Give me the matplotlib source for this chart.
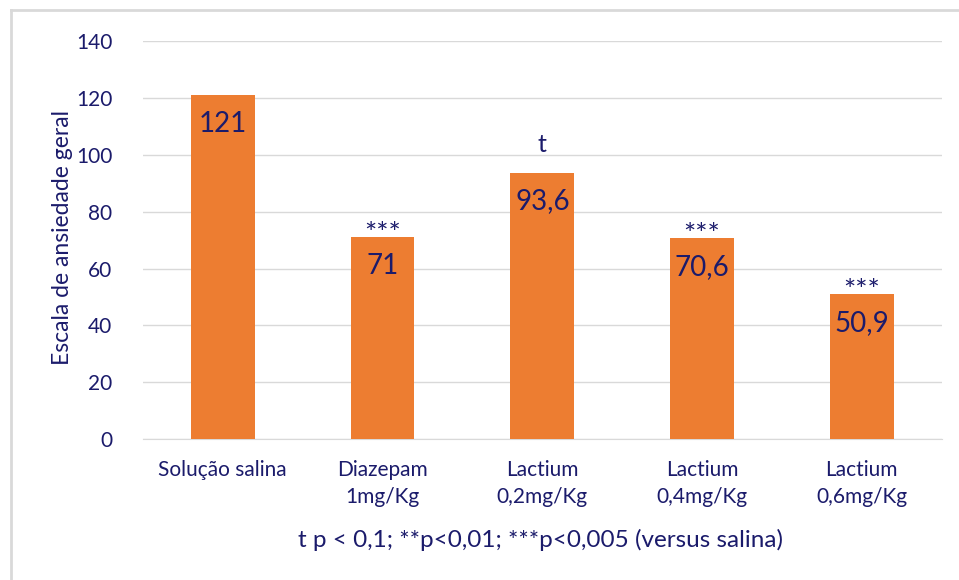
import matplotlib.pyplot as plt
from matplotlib.lines import Line2D

categories = ["Solução salina", "Diazepam\n1mg/Kg", "Lactium\n0,2mg/Kg", "Lactium\n0,4mg/Kg", "Lactium\n0,6mg/Kg"]
values = [121, 71, 93.6, 70.6, 50.9]
value_labels = ["121", "71", "93,6", "70,6", "50,9"]
marks = ["", "***", "t", "***", "***"]
yticks = [0, 20, 40, 60, 80, 100, 120, 140]

navy = "#1b1b6b"
orange = "#ED7D31"
plt.rcParams['font.family'] = ['Lato', 'DejaVu Sans']

fig = plt.figure(figsize=(9.59, 5.8), dpi=100)
ax = fig.add_axes([0.149, 0.243, 0.833, 0.686])

x = range(len(categories))
ax.bar(x, values, width=0.4, color=orange, zorder=3)

for i, v in enumerate(values):
    ax.text(i, v - 10, value_labels[i], ha='center', va='center', fontsize=20, color=navy, zorder=4)
    if marks[i] == "t":
        ax.text(i, v + 6, marks[i], ha='center', va='bottom', fontsize=18, color=navy)
    elif marks[i]:
        ax.text(i, v - 3.8, marks[i], ha='center', va='bottom', fontsize=21, color=navy)

ax.set_xlim(-0.5, len(categories) - 0.5)
ax.set_ylim(0, 140)
ax.set_yticks(yticks)
ax.set_xticks(list(x))
ax.set_xticklabels(categories, fontsize=15, color=navy, linespacing=1.45)
ax.tick_params(axis='y', labelsize=15, labelcolor=navy, length=0, pad=22)
ax.tick_params(axis='x', length=0, pad=15)
ax.grid(axis='y', color='#d9d9d9', linewidth=1, zorder=0)
for s in ['top', 'right', 'left']:
    ax.spines[s].set_visible(False)
ax.spines['bottom'].set_color('#d9d9d9')

fig.text(0.065, 0.59, "Escala de ansiedade geral", rotation=90, ha='center', va='center',
         fontsize=16.5, color=navy)
fig.text(0.564, 0.069, "t p < 0,1; **p<0,01; ***p<0,005 (versus salina)", ha='center', va='center',
         fontsize=17.5, color=navy)

# light frame (left and top edges only visible)
fig.add_artist(Line2D([0.011, 0.011], [0, 0.983], color='#d9d9d9', linewidth=2, transform=fig.transFigure))
fig.add_artist(Line2D([0.011, 1.0], [0.983, 0.983], color='#d9d9d9', linewidth=2, transform=fig.transFigure))

fig.savefig("out.png", dpi=100)
